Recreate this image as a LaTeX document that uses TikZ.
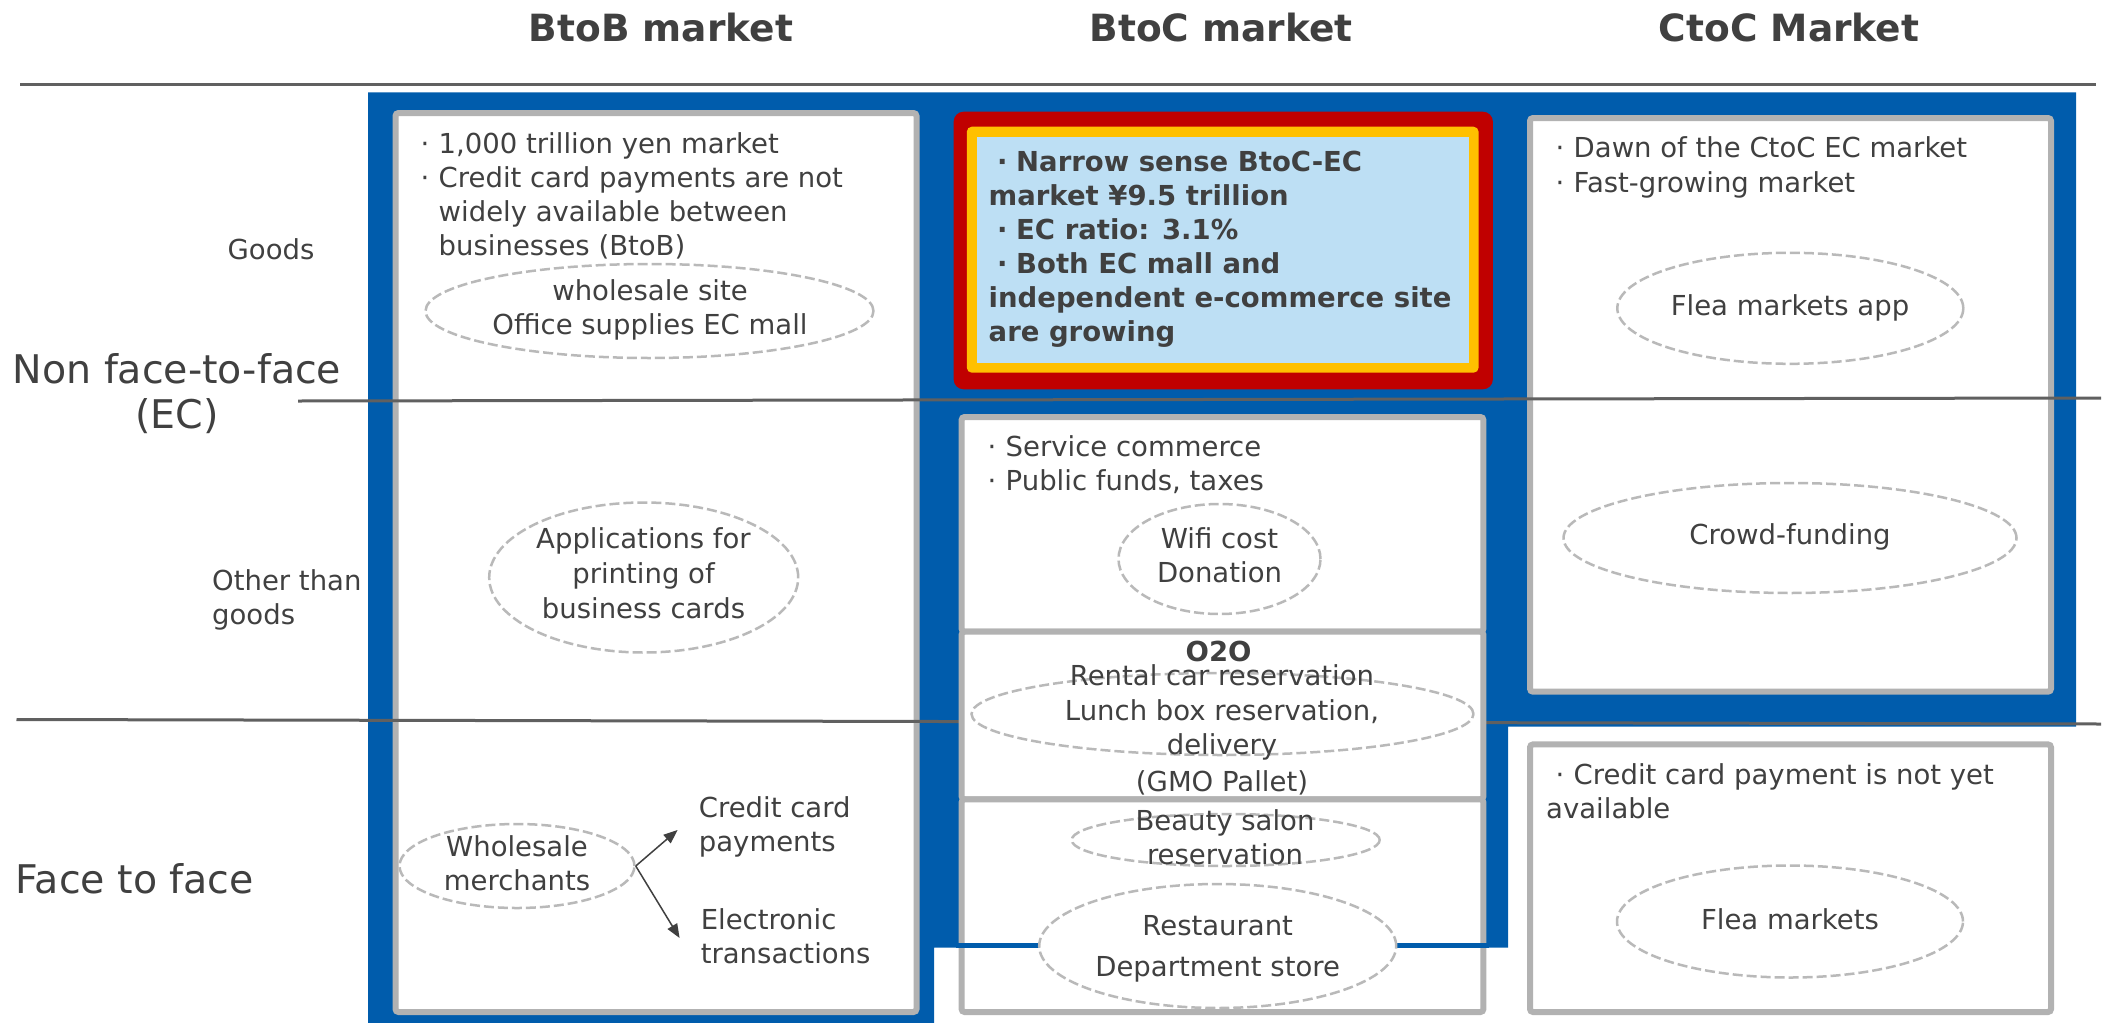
\documentclass[tikz,border=0pt]{standalone}
\usepackage{fontspec}
\setmainfont{DejaVu Sans}
\usetikzlibrary{arrows.meta,shapes.geometric}
\definecolor{ink}{RGB}{64,64,64}
\definecolor{mblue}{RGB}{0,92,172}
\definecolor{boxgray}{RGB}{178,178,178}
\definecolor{rulegray}{RGB}{96,96,96}
\definecolor{dashgray}{RGB}{185,185,185}
\definecolor{hred}{RGB}{192,0,0}
\definecolor{hyellow}{RGB}{255,192,0}
\definecolor{hsky}{RGB}{189,223,244}
\newcommand\bul{\makebox[1em]{·}}

\begin{document}
% multi-line text nodes are placed by the baseline of their last line
\begin{tikzpicture}[x=1pt,y=-1pt,
  txt/.style={text=ink,inner sep=0pt,font=\fontsize{27.5}{34}\selectfont},
  boldtxt/.style={text=ink,inner sep=0pt,font=\bfseries\fontsize{27.5}{34.1}\selectfont},
  head/.style={text=ink,inner sep=0pt,font=\bfseries\fontsize{37.5}{45}\selectfont,anchor=base},
  big/.style={text=ink,inner sep=0pt,font=\fontsize{39.5}{45}\selectfont},
  panel/.style={draw=boxgray,line width=6pt,fill=white,rounded corners=3pt},
  bubble/.style={ellipse,draw=dashgray,line width=2.5pt,dash pattern=on 10pt off 4pt,fill=white,inner sep=0pt},
  rule/.style={draw=rulegray,line width=3pt},
  arr/.style={draw=ink,line width=1.5pt,-{Triangle[length=14pt,width=11pt]}},
]
\useasboundingbox (0,0) rectangle (2105,1023);

% blue EC area
\fill[mblue] (368,92.3) -- (2076,92.3) -- (2076,726.5) -- (1508,726.5)
  -- (1508,947.5) -- (934,947.5) -- (934,1023) -- (368,1023) -- cycle;

% column panels
\path[panel] (395.5,113) rectangle (916.5,1012);
\path[panel] (1530,118) rectangle (2051,691.7);
\path[panel] (1530,744.4) rectangle (2051,1012);

% highlighted BtoC-EC box
\fill[hred,rounded corners=10pt] (953.6,111.7) rectangle (1492.9,389.3);
\fill[hyellow,rounded corners=5pt] (966.8,126.7) rectangle (1478.6,372.7);
\fill[hsky] (976.8,136.7) rectangle (1468.6,363.3);

% row rules
\draw[rule] (20,84) -- (2096,84);
\draw[rule] (298,401) -- (2101,398);
\draw[rule] (16.5,719.5) -- (2101,724);

% BtoC service / O2O / store panels
\path[panel] (961.6,417) rectangle (1483.4,631.7);
\path[panel] (961.6,631.7) rectangle (1483.4,799.3);
\path[panel] (961.6,799.3) rectangle (1483.4,1012);
\draw[mblue,line width=5pt] (956,945) -- (1489,945);

% dashed bubbles
\node[bubble,minimum width=448pt,minimum height=94pt] (eWs) at (649.5,311) {};
\node[bubble,minimum width=309pt,minimum height=150pt] (eApp) at (643.7,577.5) {};
\node[bubble,minimum width=235pt,minimum height=84pt] (eWm) at (517,866) {};
\node[bubble,minimum width=202pt,minimum height=110pt] (eWifi) at (1219.5,559) {};
\node[bubble,minimum width=502pt,minimum height=82pt] (eO2O) at (1222.5,714) {};
\node[bubble,minimum width=308pt,minimum height=52pt] (eBeauty) at (1225.7,840) {};
\node[bubble,minimum width=357pt,minimum height=124pt] (eRest) at (1217.7,946) {};
\node[bubble,minimum width=346pt,minimum height=111pt] (eFleaApp) at (1790.3,308.3) {};
\node[bubble,minimum width=453pt,minimum height=110pt] (eCrowd) at (1790,538) {};
\node[bubble,minimum width=346pt,minimum height=112pt] (eFlea) at (1790,921.5) {};

% headers
\node[head] (hBtoB) at (661,41.7) {BtoB market};
\node[head] (hBtoC) at (1221,41.7) {BtoC market};
\node[head] (hCtoC) at (1789,41.7) {CtoC Market};

% row labels
\node[txt,anchor=base] (lGoods) at (271,259) {Goods};
\node[big,anchor=base,align=center] (lNon) at (177,428.6) {Non face-to-face\\(EC)};
\node[txt,anchor=base west,align=left] (lOther) at (212,624) {Other than\\goods};
\node[big,anchor=base west] (lFace) at (15.6,893.7) {Face to face};

% BtoB column
\node[txt,anchor=base west,align=left] (tB1) at (411,255.3)
  {\bul 1,000 trillion yen market\\\bul Credit card payments are not\\\hphantom{\bul}widely available between\\\hphantom{\bul}businesses (BtoB)};
\node[txt,anchor=base,align=center] (tWs) at (650,334) {wholesale site\\Office supplies EC mall};
\node[txt,anchor=base,align=center] (tApp) at (643.5,618.3) {Applications for\\[1pt]printing of\\[1pt]business cards};
\node[txt,anchor=base,align=center] (tWm) at (517,890.7) {Wholesale\\merchants};
\node[txt,anchor=base west,align=left] (tCc) at (698.7,851.3) {Credit card\\payments};
\node[txt,anchor=base west,align=left] (tEt) at (700.6,963.3) {Electronic\\transactions};
\coordinate (tipCc) at (677.6,830);
\coordinate (tipEt) at (679.6,938);
\draw[arr] (eWm.east) -- (tipCc);
\draw[arr] (eWm.east) -- (tipEt);

% BtoC column
\node[boldtxt,anchor=base west,align=left] (tEC) at (988.5,341.5)
  {\bul Narrow sense BtoC-EC\\market ¥9.5 trillion\\\bul EC ratio: 3.1\%\\\bul Both EC mall and\\independent e-commerce site\\are growing};
\node[txt,anchor=base west,align=left] (tSvc) at (978,490.7) {\bul Service commerce\\\bul Public funds, taxes};
\node[txt,anchor=base,align=center] (tWifi) at (1219.5,582.5) {Wifi cost\\Donation};
\node[boldtxt,anchor=base] (tO2Ohead) at (1218.6,661.7) {O2O};
\node[txt,anchor=base,align=center] (tO2O) at (1222,791)
  {Rental car reservation\\[1.5pt]Lunch box reservation,\\delivery\\[2.5pt](GMO Pallet)};
\node[txt,anchor=base,align=center] (tBeauty) at (1225,864) {Beauty salon\\reservation};
\node[txt,anchor=base,align=center] (tRest) at (1217.7,976.7) {Restaurant\\[7.7pt]Department store};

% CtoC column
\node[txt,anchor=base west,align=left] (tC1) at (1546,192.5) {\bul Dawn of the CtoC EC market\\[1pt]\bul Fast-growing market};
\node[txt,anchor=base] (tFleaApp) at (1790,315) {Flea markets app};
\node[txt,anchor=base] (tCrowd) at (1790,544) {Crowd-funding};
\node[txt,anchor=base west,align=left] (tC2) at (1546,818.7) {\bul Credit card payment is not yet\\available};
\node[txt,anchor=base] (tFlea) at (1790,929.5) {Flea markets};

\end{tikzpicture}
\end{document}
